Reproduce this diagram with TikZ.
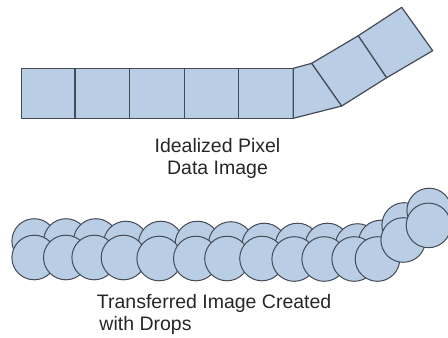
\documentclass[tikz,border=0pt]{standalone}
\usepackage{fontspec}
\setmainfont{Liberation Sans}
\definecolor{pixfill}{HTML}{B9CDE5}
\definecolor{pixline}{HTML}{454B55}
\definecolor{captext}{HTML}{262626}
\begin{document}
\begin{tikzpicture}[x=1pt,y=-1pt,
  cell/.style={fill=pixfill,draw=pixline,line width=1.2pt,line join=round},
  drop/.style={fill=pixfill,draw=pixline,line width=1pt},
  caption/.style={font=\fontsize{19.5}{22}\selectfont,text=captext,inner sep=0pt}]
\useasboundingbox (0,0) rectangle (448,338);
\begin{scope}
\clip (0,0) rectangle (448,338);

% straight run of pixel cells
\foreach \xa/\xb in {21.7/75,75/129.3,129.3/184.3,184.3/238.7,238.7/293.3}
  \draw[cell] (\xa,68.3) rectangle (\xb,118.3);

% bent run of pixel cells
\draw[cell] (293.3,68.3) -- (311.7,63.3) -- (341.7,106) -- (293.3,118.3) -- cycle;
\draw[cell] (311.7,63.3) -- (358.3,35.7) -- (386.7,77.7) -- (341.7,106) -- cycle;
\draw[cell] (358.3,35.7) -- (401.7,7.3) -- (432.7,50.7) -- (386.7,77.7) -- cycle;

% drops: upper row first, lower row on top of it
\foreach \cx/\cy in {34.2/241,66/241,95.8/241,125.8/243.5,160.8/243.5,197.5/243.5,
    230.8/244,264.2/245.5,297.5/245.5,327.5/245.5,357.5/246,380.8/242.5,
    404.2/225,429.2/210.5}
  \draw[drop] (\cx,\cy) circle[radius=22.3];
\foreach \cx/\cy in {34.2/257.5,65.8/257.5,94.2/257.5,123.5/257.5,159.2/258.5,
    195.8/258.5,227/258.5,262/258.5,294.2/259,324.2/259,354.2/259,377.5/259,
    403.2/240,428.5/225.4}
  \draw[drop] (\cx,\cy) circle[radius=22.3];
\end{scope}

% captions (anchored on the baseline of their last line)
\node[caption,align=center,anchor=base] (pixcap) at (217.5,174) {Idealized Pixel\\Data Image};
\node[caption,align=left,anchor=base west] (dropcap) at (96.7,330) {Transferred Image Created\\\hspace*{2.6pt}with Drops};
\end{tikzpicture}
\end{document}
